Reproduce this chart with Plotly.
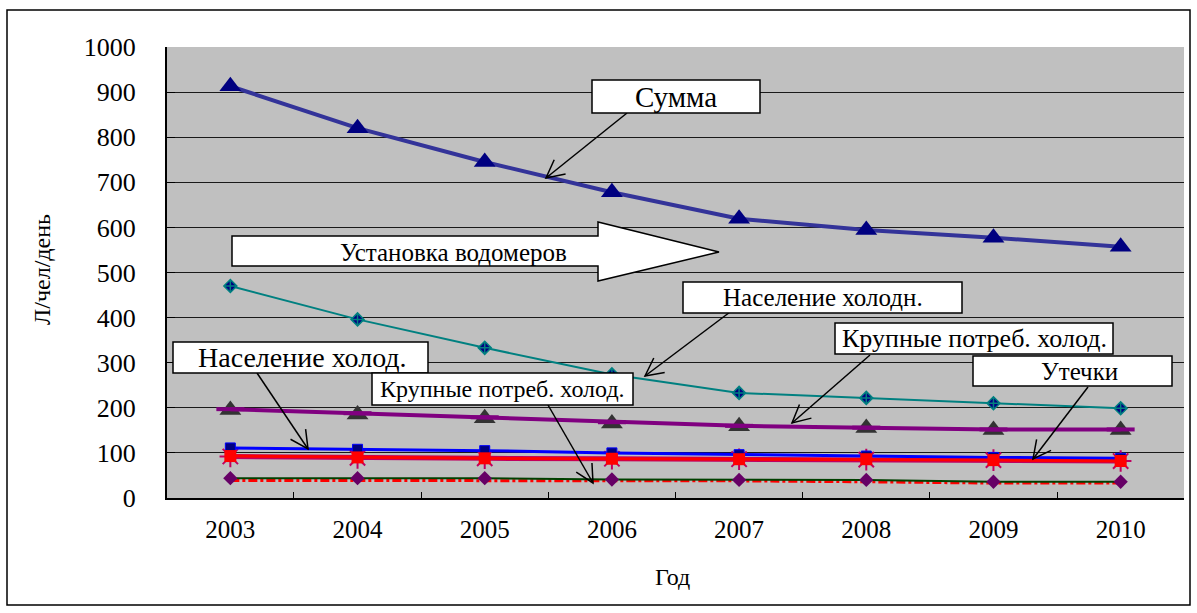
import math
import plotly.graph_objects as go

# ---- data -------------------------------------------------------------
years = ["2003", "2004", "2005", "2006", "2007", "2008", "2009", "2010"]

summa = [913, 820, 745, 678, 619, 594, 577, 557]            # Сумма
naselenie_holodn = [470, 396, 333, 274, 233, 222, 210, 199]  # Население холодн.
krupnye_line = [197, 188, 179, 168, 160, 156, 152, 152]      # Крупные потреб. холод. (line)
krupnye_tri = [195, 185, 177, 165, 159, 155, 151, 151]       # Крупные потреб. (triangles)
naselenie_holod = [111, 108, 105, 100, 96, 93, 90, 88]       # Население холод.
utechki = [93, 90, 88, 87, 86, 86, 84, 82]                   # Утечки
utechki_star = [92, 89, 88, 87, 86, 85, 84, 82]
krupnye_low = [44, 44, 44, 41, 40, 40, 36, 36]               # Крупные потреб. холод. (lower)
krupnye_low_dash = [39, 39, 39, 38, 38, 36, 33, 33]

FONT = "Liberation Serif"

# ---- geometry of the plot area (pixels) --------------------------------
W, H = 1197, 613
X0, X1, Y0, Y1 = 167, 1184, 47, 498


def px(x):
    return (x - X0) / (X1 - X0)


def py(y):
    return (Y1 - y) / (Y1 - Y0)


fig = go.Figure()

# lowest pair: red dash-dot and dark green line with purple diamonds
fig.add_trace(go.Scatter(x=years, y=krupnye_low_dash, mode="lines",
                         line=dict(color="#FF0000", width=3, dash="dashdot")))
fig.add_trace(go.Scatter(x=years, y=krupnye_low, mode="lines+markers",
                         line=dict(color="#004000", width=2),
                         marker=dict(symbol="diamond", size=11, color="#660066")))

# leaks: purple asterisks under red line with red squares
fig.add_trace(go.Scatter(x=years, y=utechki_star, mode="lines+markers",
                         line=dict(color="#C00060", width=5),
                         marker=dict(symbol="asterisk-open", size=18,
                                     line=dict(color="#800080", width=2))))
fig.add_trace(go.Scatter(x=years, y=naselenie_holod, mode="lines+markers",
                         line=dict(color="#0000FF", width=3),
                         marker=dict(symbol="square", size=10, color="#000080",
                                     line=dict(color="#0000FF", width=1))))
fig.add_trace(go.Scatter(x=years, y=utechki, mode="lines+markers",
                         line=dict(color="#FF0000", width=3),
                         marker=dict(symbol="square", size=12, color="#FF0000")))

# large consumers: dark triangles with purple line and cyan dashes
fig.add_trace(go.Scatter(x=years, y=krupnye_tri, mode="markers",
                         marker=dict(symbol="triangle-up", size=19, color="#333333")))
fig.add_trace(go.Scatter(x=years, y=krupnye_line, mode="lines+markers",
                         line=dict(color="#800080", width=4),
                         marker=dict(symbol="line-ew-open", size=20,
                                     line=dict(color="#00CCFF", width=4))))

# population, cold water
fig.add_trace(go.Scatter(x=years, y=naselenie_holodn, mode="lines+markers",
                         line=dict(color="#008080", width=2),
                         marker=dict(symbol="diamond-cross", size=10, color="#000080",
                                     line=dict(color="#008080", width=1.5))))

# total
fig.add_trace(go.Scatter(x=years, y=summa, mode="lines+markers",
                         line=dict(color="#333399", width=4),
                         marker=dict(symbol="triangle-up", size=19, color="#000080")))

# ---- decorations: callout boxes, arrows, big arrow ----------------------
shapes = []
annotations = []

# outer chart border
shapes.append(dict(type="rect", xref="paper", yref="paper",
                   x0=px(7), x1=px(1190), y0=py(605), y1=py(10),
                   line=dict(color="black", width=1.5), layer="below"))

# big arrow "Установка водомеров"
arrow_pts = [(232, 236), (598, 236), (598, 222), (719, 252),
             (598, 281), (598, 266), (232, 266)]
path = "M " + " L ".join(f"{px(x):.5f},{py(y):.5f}" for x, y in arrow_pts) + " Z"
shapes.append(dict(type="path", xref="paper", yref="paper", path=path,
                   fillcolor="white", line=dict(color="black", width=1.5),
                   layer="above"))
annotations.append(dict(x=px(453), y=py(252), xref="paper", yref="paper",
                        text="Установка водомеров", showarrow=False,
                        font=dict(family=FONT, size=25, color="black"),
                        xanchor="center", yanchor="middle"))

# callouts: (text, box x0, y0, x1, y1, text x, font size, arrow start, arrow tip)
callouts = [
    ("Сумма", 592, 80, 760, 113, 676, 29, (627, 113), (546, 178)),
    ("Население холодн.", 683, 282, 962, 313, 823, 25, (742, 303), (645, 376)),
    ("Крупные потреб. холод.", 835, 323, 1113, 354, 974, 26, (870, 355), (792, 423)),
    ("Утечки", 973, 356, 1172, 386, 1079, 25, (1088, 387), (1033, 459)),
    ("Население холод.", 173, 342, 428, 373, 302, 28, (257, 373), (308, 449)),
    ("Крупные потреб. холод.", 372, 373, 633, 405, 502, 24, (548, 405), (593, 483)),
]

for text, bx0, by0, bx1, by1, tx, fs, (sx, sy), (ex, ey) in callouts:
    # arrow shaft
    shapes.append(dict(type="line", xref="paper", yref="paper",
                       x0=px(sx), y0=py(sy), x1=px(ex), y1=py(ey),
                       line=dict(color="black", width=1.5), layer="above"))
    # open V head
    ang = math.atan2(sy - ey, sx - ex)
    arm, spread = 20, math.radians(27)
    a1 = (ex + arm * math.cos(ang + spread), ey + arm * math.sin(ang + spread))
    a2 = (ex + arm * math.cos(ang - spread), ey + arm * math.sin(ang - spread))
    head = (f"M {px(a1[0]):.5f},{py(a1[1]):.5f} L {px(ex):.5f},{py(ey):.5f} "
            f"L {px(a2[0]):.5f},{py(a2[1]):.5f}")
    shapes.append(dict(type="path", xref="paper", yref="paper", path=head,
                       line=dict(color="black", width=1.5), layer="above"))

for text, bx0, by0, bx1, by1, tx, fs, (sx, sy), (ex, ey) in callouts:
    shapes.append(dict(type="rect", xref="paper", yref="paper",
                       x0=px(bx0), x1=px(bx1), y0=py(by1), y1=py(by0),
                       fillcolor="white", line=dict(color="black", width=1.5),
                       layer="above"))
    annotations.append(dict(x=px(tx), y=py((by0 + by1) / 2), xref="paper", yref="paper",
                            text=text, showarrow=False,
                            font=dict(family=FONT, size=fs, color="black"),
                            xanchor="center", yanchor="middle"))

# axis titles
annotations.append(dict(x=px(42), y=py(270), xref="paper", yref="paper",
                        text="Л/чел/день", showarrow=False, textangle=-90,
                        font=dict(family=FONT, size=24, color="black"),
                        xanchor="center", yanchor="middle"))
annotations.append(dict(x=px(672), y=py(577), xref="paper", yref="paper",
                        text="Год", showarrow=False,
                        font=dict(family=FONT, size=24, color="black"),
                        xanchor="center", yanchor="middle"))

fig.update_layout(
    width=W, height=H,
    margin=dict(l=X0, r=W - X1, t=Y0, b=H - Y1),
    paper_bgcolor="white",
    plot_bgcolor="#C0C0C0",
    showlegend=False,
    shapes=shapes,
    annotations=annotations,
    font=dict(family=FONT, color="black"),
)

fig.update_xaxes(
    type="category", categoryorder="array", categoryarray=years,
    showgrid=False, showline=True, linecolor="black", linewidth=2,
    ticks="inside", ticklen=6, tickcolor="black", tickson="boundaries",
    tickfont=dict(family=FONT, size=25, color="black"),
    ticklabelstandoff=8, mirror=False, zeroline=False,
)
fig.update_yaxes(
    range=[0, 1000], dtick=100, showgrid=True, gridcolor="#1a1a1a", gridwidth=1,
    showline=True, linecolor="black", linewidth=2,
    ticks="inside", ticklen=8, tickcolor="black",
    tickfont=dict(family=FONT, size=26, color="black"),
    ticklabelstandoff=24, zeroline=False,
)

fig.write_html("out.html")
